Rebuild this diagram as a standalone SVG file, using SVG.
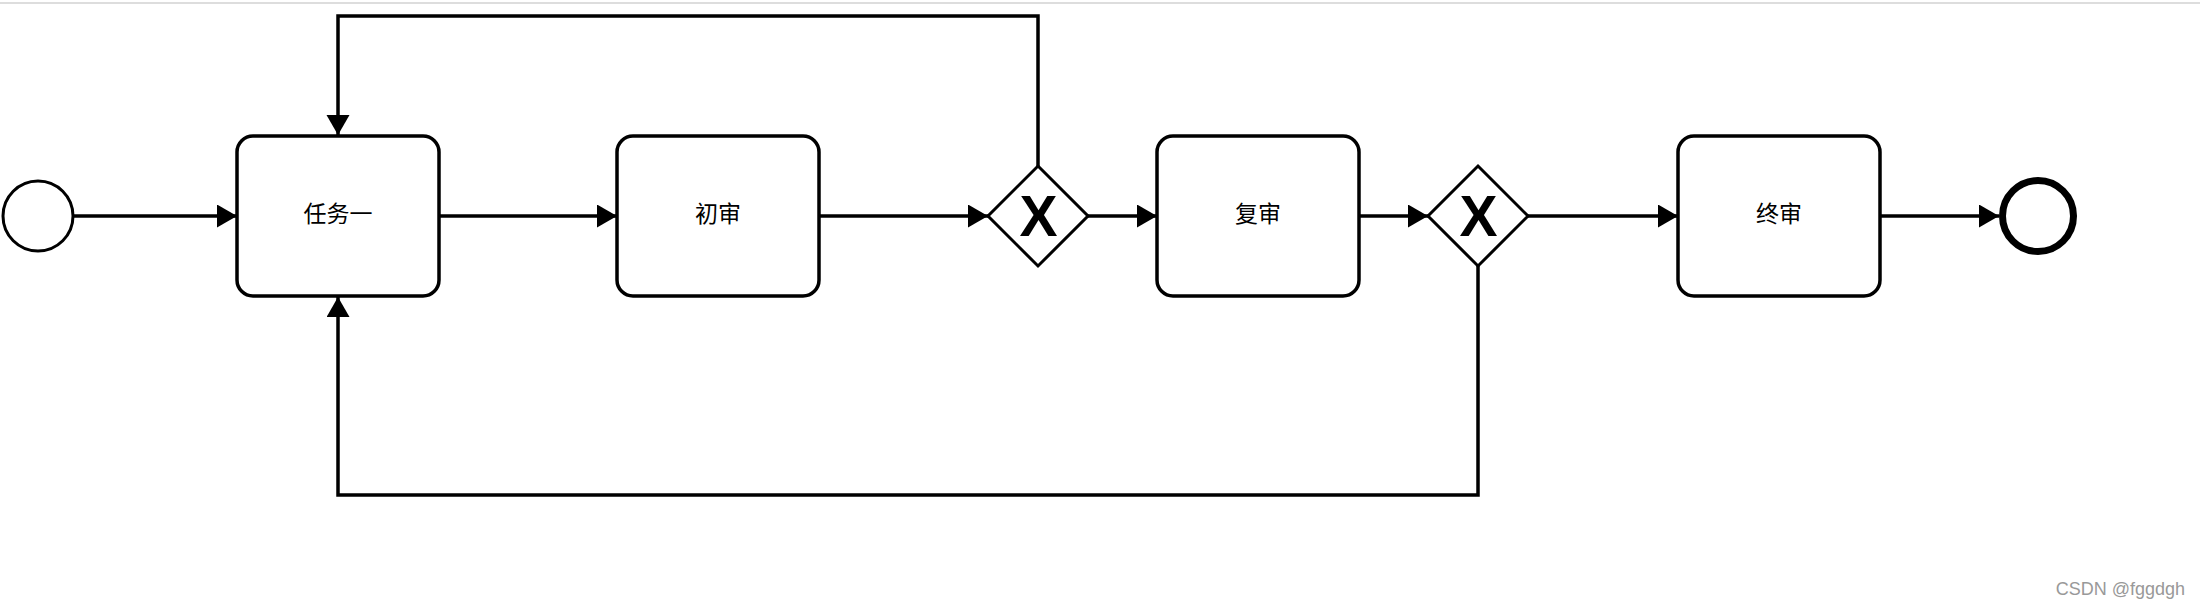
<svg xmlns="http://www.w3.org/2000/svg" width="2200" height="608" viewBox="0 0 2200 608">
<style>
.task{fill:#fff;stroke:#000;stroke-width:3.5}
.gw{fill:#fff;stroke:#000;stroke-width:3}
.lbl{font-family:"Noto Sans CJK SC","Noto Sans",sans-serif;font-size:23px;fill:#000;text-anchor:middle}
.x{font-family:"Liberation Sans",Arial,sans-serif;font-weight:bold;font-size:57px;fill:#000;text-anchor:middle}
.flow{fill:none;stroke:#000;stroke-width:3.5;marker-end:url(#arr)}
</style>
<defs>
<marker id="arr" markerUnits="userSpaceOnUse" markerWidth="22" markerHeight="24" refX="20" refY="11.5" orient="auto">
<path d="M0,0 L20,11.5 L0,23 Z" fill="#000"/>
</marker>
</defs>
<rect x="0" y="0" width="2200" height="608" fill="#fff"/>
<line x1="0" y1="3" x2="2200" y2="3" stroke="#dddddd" stroke-width="2"/>
<g id="connectors">
<path class="flow" d="M74,216 L237,216"/>
<path class="flow" d="M439,216 L617,216"/>
<path class="flow" d="M819,216 L988,216"/>
<path class="flow" d="M1088,216 L1157,216"/>
<path class="flow" d="M1359,216 L1428,216"/>
<path class="flow" d="M1528,216 L1678,216"/>
<path class="flow" d="M1880,216 L1999,216"/>
<path class="flow" d="M1038,166 L1038,16 L338,16 L338,135"/>
<path class="flow" d="M1478,266 L1478,495 L338,495 L338,297"/>
</g>
<g id="start"><circle cx="38" cy="216" r="35" fill="#fff" stroke="#000" stroke-width="3"/></g>
<g id="task1"><rect class="task" x="237" y="136" width="202" height="160" rx="16"/><text class="lbl" x="338" y="222">任务一</text></g>
<g id="task2"><rect class="task" x="617" y="136" width="202" height="160" rx="16"/><text class="lbl" x="718" y="222">初审</text></g>
<g id="gateway1"><path class="gw" d="M1038,166 L1088,216 L1038,266 L988,216 Z"/><text class="x" x="1038.5" y="235.5">X</text></g>
<g id="task3"><rect class="task" x="1157" y="136" width="202" height="160" rx="16"/><text class="lbl" x="1258" y="222">复审</text></g>
<g id="gateway2"><path class="gw" d="M1478,166 L1528,216 L1478,266 L1428,216 Z"/><text class="x" x="1478.5" y="235.5">X</text></g>
<g id="task4"><rect class="task" x="1678" y="136" width="202" height="160" rx="16"/><text class="lbl" x="1779" y="222">终审</text></g>
<g id="end"><circle cx="2038" cy="216" r="35.5" fill="#fff" stroke="#000" stroke-width="7"/></g>
<text x="2185" y="595" font-family="'Liberation Sans',Arial,sans-serif" font-size="18" fill="#999" text-anchor="end">CSDN @fggdgh</text>
</svg>
